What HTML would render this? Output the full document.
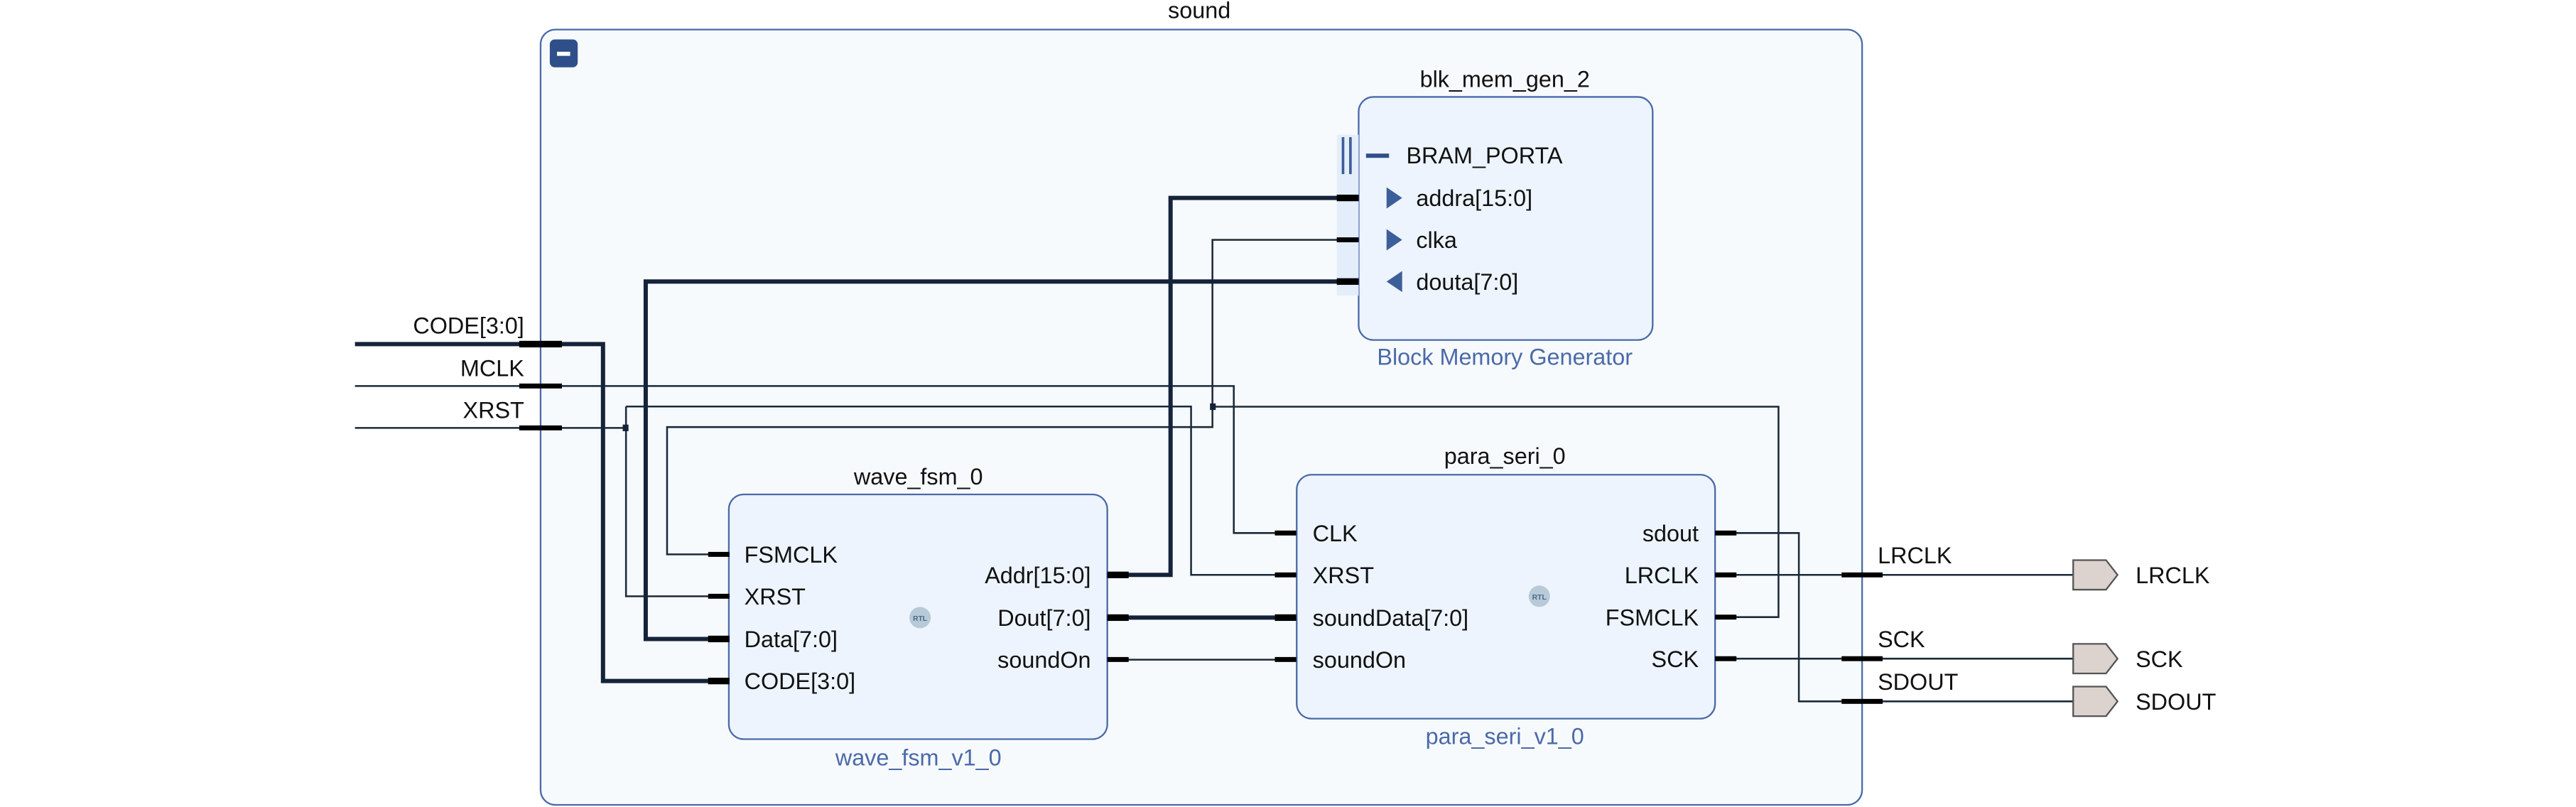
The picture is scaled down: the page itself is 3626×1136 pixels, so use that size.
<!DOCTYPE html>
<html><head><meta charset="utf-8"><style>html,body{margin:0;padding:0;background:#fff}svg{display:block}</style></head>
<body>
<svg width="3626" height="1136" viewBox="0 0 1568 491.3" xmlns="http://www.w3.org/2000/svg" font-family="Liberation Sans, sans-serif" font-size="14">
<rect x="0" y="0" width="1568" height="492" fill="#fff"/>
<text x="730" y="11" text-anchor="middle" fill="#111">sound</text>
<rect x="329" y="18" width="804.5" height="472" rx="9" fill="#f7fafd" stroke="#4a6aa8" stroke-width="1"/>
<rect x="334.6" y="24" width="17" height="17" rx="3" fill="#2f4f8a"/>
<rect x="339" y="31.5" width="8" height="2.5" fill="#fff"/>

<!-- blk_mem_gen -->
<text x="916" y="53" text-anchor="middle" fill="#111">blk_mem_gen_2</text>
<rect x="827" y="59" width="179" height="148" rx="9" fill="#edf4fd" stroke="#4a6aa8" stroke-width="1"/>
<rect x="813.7" y="82" width="13.3" height="98" fill="#e4eefb"/>
<line x1="817.5" y1="83.5" x2="817.5" y2="106" stroke="#3d5f99" stroke-width="1.6"/>
<line x1="822" y1="83.5" x2="822" y2="106" stroke="#3d5f99" stroke-width="1.6"/>
<rect x="831.5" y="93.5" width="14" height="2.6" fill="#2f4f8a"/>
<text x="856" y="99.5" fill="#111">BRAM_PORTA</text>
<polygon points="844,114 853.5,120.5 844,127" fill="#3d5f99"/>
<text x="862" y="125.5" fill="#111">addra[15:0]</text>
<polygon points="844,139.5 853.5,146 844,152.5" fill="#3d5f99"/>
<text x="862" y="151" fill="#111">clka</text>
<polygon points="853.5,165 844,171.4 853.5,177.8" fill="#3d5f99"/>
<text x="862" y="176.5" fill="#111">douta[7:0]</text>
<text x="916" y="222" text-anchor="middle" fill="#4a6aa8">Block Memory Generator</text>

<!-- wave_fsm -->
<text x="559" y="295" text-anchor="middle" fill="#111">wave_fsm_0</text>
<rect x="443.6" y="301" width="230.4" height="149" rx="9" fill="#edf4fd" stroke="#4a6aa8" stroke-width="1"/>
<text x="453" y="342.5" fill="#111">FSMCLK</text>
<text x="453" y="368" fill="#111">XRST</text>
<text x="453" y="394" fill="#111">Data[7:0]</text>
<text x="453" y="419.6" fill="#111">CODE[3:0]</text>
<text x="664" y="355" text-anchor="end" fill="#111">Addr[15:0]</text>
<text x="664" y="381" text-anchor="end" fill="#111">Dout[7:0]</text>
<text x="664" y="406.6" text-anchor="end" fill="#111">soundOn</text>
<circle cx="560" cy="376" r="6.5" fill="#b8cad8"/>
<text x="560" y="378" text-anchor="middle" font-size="4.5" font-weight="bold" fill="#4a6a88">RTL</text>
<text x="559" y="466" text-anchor="middle" fill="#4a6aa8">wave_fsm_v1_0</text>

<!-- para_seri -->
<text x="916" y="282.5" text-anchor="middle" fill="#111">para_seri_0</text>
<rect x="789.3" y="289" width="254.7" height="148.5" rx="9" fill="#edf4fd" stroke="#4a6aa8" stroke-width="1"/>
<text x="799" y="329.5" fill="#111">CLK</text>
<text x="799" y="355" fill="#111">XRST</text>
<text x="799" y="381" fill="#111">soundData[7:0]</text>
<text x="799" y="406.6" fill="#111">soundOn</text>
<text x="1034" y="329.5" text-anchor="end" fill="#111">sdout</text>
<text x="1034" y="355" text-anchor="end" fill="#111">LRCLK</text>
<text x="1034" y="380.7" text-anchor="end" fill="#111">FSMCLK</text>
<text x="1034" y="406" text-anchor="end" fill="#111">SCK</text>
<circle cx="937" cy="363" r="6.5" fill="#b8cad8"/>
<text x="937" y="365" text-anchor="middle" font-size="4.5" font-weight="bold" fill="#4a6a88">RTL</text>
<text x="916" y="453" text-anchor="middle" fill="#4a6aa8">para_seri_v1_0</text>

<!-- wires thin -->
<g fill="none" stroke="#1b2a3a" stroke-width="1.1">
<path d="M216 235 H751 V324.5 H789"/>
<path d="M216 260.5 H381"/>
<path d="M381 247.5 H725 V350 H789"/>
<path d="M381 247.5 V363 H444"/>
<path d="M1044 375.7 H1082.6 V247.6 H738"/>
<path d="M827 146 H738 V260 H406 V337.5 H444"/>
<path d="M674 401.6 H789"/>
<path d="M1044 324.5 H1095 V427 H1262"/>
<path d="M1044 350 H1262"/>
<path d="M1044 401 H1262"/>
</g>
<!-- thick buses -->
<g fill="none" stroke="#14233a" stroke-width="2.6">
<path d="M216 209.5 H367 V414.6 H444"/>
<path d="M827 171.4 H393 V389 H444"/>
<path d="M674 350 H712.5 V120.5 H827"/>
<path d="M674 376 H789"/>
</g>
<rect x="379" y="258.5" width="3.5" height="4" fill="#14233a"/>
<rect x="736.5" y="245.6" width="3.5" height="4" fill="#14233a"/>

<!-- stubs -->
<g fill="#000">
<rect x="316" y="207.5" width="26" height="4"/>
<rect x="316" y="233.5" width="26" height="3"/>
<rect x="316" y="259" width="26" height="3"/>
<rect x="431" y="336" width="13" height="3"/>
<rect x="431" y="361.5" width="13" height="3"/>
<rect x="431" y="387" width="13" height="4"/>
<rect x="431" y="412.6" width="13" height="4"/>
<rect x="674" y="348" width="13" height="4"/>
<rect x="674" y="374" width="13" height="4"/>
<rect x="674" y="400" width="13" height="3"/>
<rect x="776" y="323" width="13" height="3"/>
<rect x="776" y="348.5" width="13" height="3"/>
<rect x="776" y="374" width="13" height="4"/>
<rect x="776" y="400" width="13" height="3"/>
<rect x="1044" y="323" width="13" height="3"/>
<rect x="1044" y="348.5" width="13" height="3"/>
<rect x="1044" y="374.2" width="13" height="3"/>
<rect x="1044" y="399.5" width="13" height="3"/>
<rect x="813.7" y="118.5" width="13.3" height="4"/>
<rect x="813.7" y="144.5" width="13.3" height="3"/>
<rect x="813.7" y="169.4" width="13.3" height="4"/>
<rect x="1121" y="348.5" width="25" height="3"/>
<rect x="1121" y="399.5" width="25" height="3"/>
<rect x="1121" y="425.5" width="25" height="3"/>
</g>

<!-- input labels -->
<text x="319" y="203" text-anchor="end" fill="#111">CODE[3:0]</text>
<text x="319" y="229" text-anchor="end" fill="#111">MCLK</text>
<text x="319" y="254.5" text-anchor="end" fill="#111">XRST</text>

<!-- outputs -->
<text x="1143" y="343" fill="#111">LRCLK</text>
<text x="1143" y="394" fill="#111">SCK</text>
<text x="1143" y="420" fill="#111">SDOUT</text>
<g fill="#dcd3cf" stroke="#555" stroke-width="1">
<polygon points="1262,341 1282,341 1289,350 1282,359 1262,359"/>
<polygon points="1262,392 1282,392 1289,401 1282,410 1262,410"/>
<polygon points="1262,418 1282,418 1289,427 1282,436 1262,436"/>
</g>
<text x="1300" y="355" fill="#111">LRCLK</text>
<text x="1300" y="406" fill="#111">SCK</text>
<text x="1300" y="432" fill="#111">SDOUT</text>
</svg>
</body></html>
